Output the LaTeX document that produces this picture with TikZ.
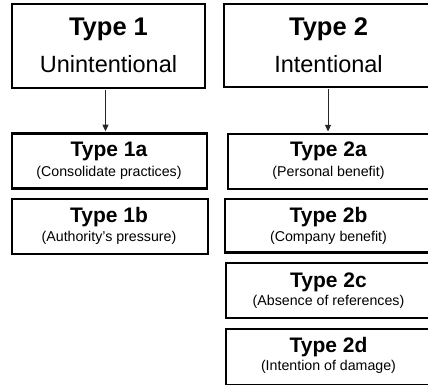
\documentclass[tikz,border=0pt]{standalone}
\usepackage{fontspec}
\setmainfont{Liberation Sans}
\usetikzlibrary{arrows.meta}
\begin{document}
\begin{tikzpicture}[x=1pt,y=-1pt,
  box/.style={draw=black, line width=2.2pt, inner sep=0pt, fill=white},
  bigttl/.style={anchor=base, inner sep=0pt, font=\bfseries\fontsize{25.5}{30}\selectfont},
  bigsub/.style={anchor=base, inner sep=0pt, font=\fontsize{23.5}{28}\selectfont},
  ttl/.style={anchor=base, inner sep=0pt, font=\bfseries\fontsize{21}{25}\selectfont},
  sub/.style={anchor=base, inner sep=0pt, font=\fontsize{14.2}{17}\selectfont},
  arr/.style={draw=black!85, line width=0.9pt, -{Triangle[width=6pt,length=6.5pt]}, shorten >=1.1pt, shorten <=1.1pt}]
\useasboundingbox (0,0) rectangle (428,385);
% boxes
\node[box, minimum width=192.8pt, minimum height=83.8pt] (t1)  at (108.5,46) {};
\node[box, minimum width=209.8pt, minimum height=82.8pt] (t2)  at (329,45.5) {};
\node[box, minimum width=194.8pt, minimum height=55pt]   (t1a) at (109.5,160.9) {};
\node[box, minimum width=195.8pt, minimum height=55.1pt] (t1b) at (110,226.35) {};
\node[box, minimum width=205.8pt, minimum height=55.3pt] (t2a) at (331,161.25) {};
\node[box, minimum width=208.8pt, minimum height=53.8pt] (t2b) at (329.5,225.5) {};
\node[box, minimum width=207.8pt, minimum height=54.8pt] (t2c) at (330,290.5) {};
\node[box, minimum width=207.8pt, minimum height=55.8pt] (t2d) at (330,357) {};
% texts
\node[bigttl] (t1t) at (108.5,35.5) {Type 1};
\node[bigsub] (t1s) at (108.5,73) {Unintentional};
\node[bigttl] (t2t) at (328.5,35.5) {Type 2};
\node[bigsub] (t2s) at (328.5,73) {Intentional};
\node[ttl] (t1at) at (109,157) {Type 1a};
\node[sub] (t1as) at (109,176) {(Consolidate practices)};
\node[ttl] (t1bt) at (109,222) {Type 1b};
\node[sub] (t1bs) at (109,241) {(Authority’s pressure)};
\node[ttl] (t2at) at (328.5,157) {Type 2a};
\node[sub] (t2as) at (328.5,176) {(Personal benefit)};
\node[ttl] (t2bt) at (328.5,222) {Type 2b};
\node[sub] (t2bs) at (328.5,241) {(Company benefit)};
\node[ttl] (t2ct) at (328.5,287) {Type 2c};
\node[sub] (t2cs) at (328.5,305) {(Absence of references)};
\node[ttl] (t2dt) at (328.5,352) {Type 2d};
\node[sub] (t2ds) at (328.5,370) {(Intention of damage)};
% arrows
\coordinate (ax1) at (105.5,0);
\coordinate (ax2) at (328,0);
\draw[arr] (t1.south -| ax1) -- (t1a.north -| ax1);
\draw[arr] (t2.south -| ax2) -- (t2a.north -| ax2);
\end{tikzpicture}
\end{document}
